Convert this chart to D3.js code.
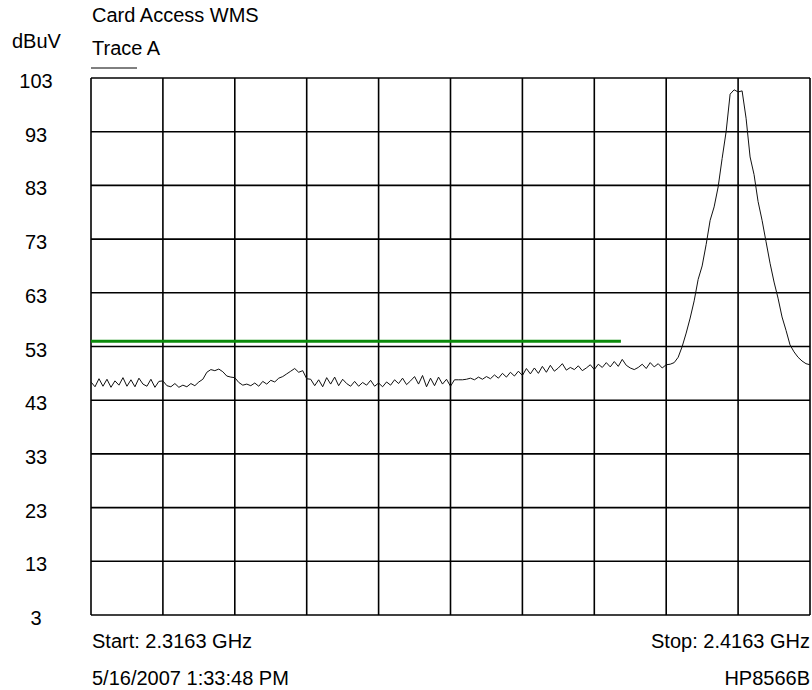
<!DOCTYPE html>
<html>
<head>
<meta charset="utf-8">
<script src="https://cdn.jsdelivr.net/npm/d3@7"></script>
<style>
  html, body { margin: 0; padding: 0; background: #fff; }
  svg { display: block; }
  text { font-family: Arial, "Liberation Sans", sans-serif; fill: #000; }
</style>
</head>
<body>
<script>
// ---- data ----
const title = "Card Access WMS";
const unitLabel = "dBuV";
const traceLabel = "Trace A";
const startGHz = 2.3163;
const stopGHz = 2.4163;
const startLabel = "Start: 2.3163 GHz";
const stopLabel = "Stop: 2.4163 GHz";
const dateLabel = "5/16/2007 1:33:48 PM";
const instrumentLabel = "HP8566B";
const yTicks = [103, 93, 83, 73, 63, 53, 43, 33, 23, 13, 3];
const xDivisions = [0,1,2,3,4,5,6,7,8,9,10];
// limit line (dBuV) and its frequency extent (GHz)
const limitLevel = 54;
const limitStart = 2.3163;
const limitStop = 2.3900;
// Trace A amplitude values (dBuV), equally spaced sweep points from start to stop
const traceA = [
  46.4, 45.5, 47.0, 45.6, 46.9, 45.4, 46.6, 45.8, 47.2, 45.6,
  46.8, 45.5, 47.1, 46.0, 45.6, 46.9, 45.4, 46.5, 46.6, 45.7,
  45.5, 46.1, 45.4, 45.8, 45.5, 46.1, 45.7, 46.4, 46.9, 48.2,
  48.7, 48.5, 48.8, 48.3, 47.5, 47.3, 47.2, 46.3, 45.8, 46.0,
  45.7, 46.2, 45.6, 46.5, 46.0, 46.7, 46.4, 47.1, 47.4, 47.9,
  48.4, 48.9, 48.2, 48.5, 47.0, 46.9, 45.7, 46.8, 45.5, 47.2,
  46.0, 47.3, 45.7, 46.9, 46.1, 45.6, 46.5, 45.6, 46.3, 45.8,
  46.7, 45.6, 46.2, 45.5, 46.4, 45.8, 46.8, 46.1, 47.1, 45.9,
  46.6, 47.4, 46.0, 47.6, 45.5, 47.1, 45.7, 47.3, 46.0, 46.9,
  45.6, 46.8, 46.8, 46.8, 46.9, 47.1, 46.8, 47.3, 46.9, 47.4,
  47.0, 47.7, 47.1, 48.0, 47.3, 48.2, 47.5, 48.4, 47.6, 48.9,
  47.9, 49.0, 48.0, 49.3, 48.2, 49.5, 48.4, 49.0, 49.8, 48.6,
  49.1, 48.7, 49.4, 48.5, 49.0, 49.6, 48.7, 49.7, 49.1, 50.0,
  49.2, 50.2, 49.3, 50.6, 49.5, 49.0, 48.7, 49.1, 49.7, 48.9,
  50.0, 49.2, 49.8, 49.0, 49.6, 49.7, 50.0, 51.0, 53.0, 55.5,
  58.3, 61.5, 65.5, 68.0, 72.0, 76.5, 79.0, 82.7, 88.0, 93.0,
  100.0, 100.8, 100.4, 100.6, 95.5, 88.3, 85.0, 80.0, 76.5, 72.5,
  68.5, 65.0, 62.0, 58.5, 56.0, 53.3, 52.0, 51.0, 50.3, 49.8,
  49.6
];

// ---- layout ----
const W = 812, H = 690;
const plot = { left: 91, right: 810, top: 78, bottom: 615 };
const fs = 20;

const svg = d3.select("body").append("svg").attr("width", W).attr("height", H);

const x = d3.scaleLinear().domain([startGHz, stopGHz]).range([plot.left, plot.right]);
const y = d3.scaleLinear().domain([3, 103]).range([plot.bottom, plot.top]);
const xDiv = d3.scaleLinear().domain([0, 10]).range([plot.left, plot.right]);

// grid
const grid = svg.append("g").attr("stroke", "#000").attr("stroke-width", 1.6).attr("fill", "none");
grid.selectAll("line.v").data(xDivisions).join("line")
  .attr("class", "v")
  .attr("x1", d => xDiv(d)).attr("x2", d => xDiv(d))
  .attr("y1", plot.top).attr("y2", plot.bottom);
grid.selectAll("line.h").data(yTicks).join("line")
  .attr("class", "h")
  .attr("x1", plot.left).attr("x2", plot.right)
  .attr("y1", d => y(d)).attr("y2", d => y(d));

// y tick labels
svg.append("g").selectAll("text").data(yTicks).join("text")
  .attr("x", 36).attr("y", d => y(d) + 10)
  .attr("text-anchor", "middle")
  .attr("font-size", fs)
  .text(d => d);

// limit line
svg.append("line")
  .attr("x1", x(limitStart)).attr("x2", x(limitStop))
  .attr("y1", y(limitLevel)).attr("y2", y(limitLevel))
  .attr("stroke", "#0a8a0a").attr("stroke-width", 3);

// trace
const step = (stopGHz - startGHz) / (traceA.length - 1);
const line = d3.line()
  .x((d, i) => x(startGHz + i * step))
  .y(d => y(d));
svg.append("path").datum(traceA)
  .attr("d", line)
  .attr("fill", "none").attr("stroke", "#111").attr("stroke-width", 1);

// header texts
svg.append("text").attr("x", 92).attr("y", 22).attr("font-size", fs).text(title);
svg.append("text").attr("x", 12).attr("y", 48).attr("font-size", fs).text(unitLabel);
svg.append("text").attr("x", 92).attr("y", 55).attr("font-size", fs).text(traceLabel);
svg.append("line").attr("x1", 91).attr("x2", 137).attr("y1", 68).attr("y2", 68)
  .attr("stroke", "#000").attr("stroke-width", 1);

// footer texts
svg.append("text").attr("x", 92).attr("y", 648).attr("font-size", fs).text(startLabel);
svg.append("text").attr("x", 92).attr("y", 685).attr("font-size", fs).text(dateLabel);
svg.append("text").attr("x", 810).attr("y", 648).attr("font-size", fs).attr("text-anchor", "end").text(stopLabel);
svg.append("text").attr("x", 810).attr("y", 685).attr("font-size", fs).attr("text-anchor", "end").text(instrumentLabel);
</script>
</body>
</html>
